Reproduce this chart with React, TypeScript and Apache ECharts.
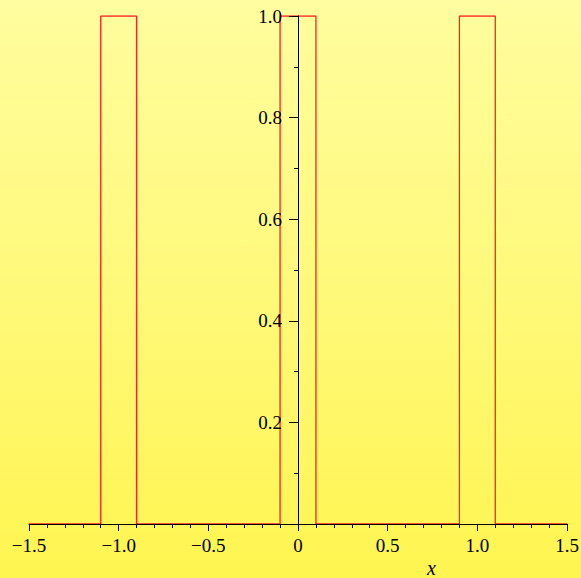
import React, { useEffect, useRef } from "react";
import * as echarts from "echarts";

// Pulse outline (x, y)
const pulseX = [-1.5, -1.1, -1.1, -0.9, -0.9, -0.1, -0.1, 0.1, 0.1, 0.9, 0.9, 1.1, 1.1, 1.5];
const pulseY = [0, 0, 1, 1, 0, 0, 1, 1, 0, 0, 1, 1, 0, 0];
const xTicks = [-1.5, -1.0, -0.5, 0, 0.5, 1.0, 1.5];
const yTicks = [0.2, 0.4, 0.6, 0.8, 1.0];
const xName = "x";

const fmt = (v: number) => {
  if (Math.abs(v) < 1e-9) return "0";
  const s = Math.abs(v).toFixed(1);
  return v < 0 ? "\u2212" + s : s;
};

export default function App() {
  const ref = useRef<HTMLDivElement>(null);
  useEffect(() => {
    if (!ref.current) return;
    const chart = echarts.init(ref.current, undefined, { renderer: "svg" });
    const font = "'Liberation Serif', 'DejaVu Serif', serif";
    const W = 581, L = 29, R = 14;
    const xMin = xTicks[0], xMax = xTicks[xTicks.length - 1];
    // shift the y axis from the grid's left edge to x = 0
    const yOffset = -((0 - xMin) / (xMax - xMin)) * (W - L - R);
    chart.setOption({
      animation: false,
      backgroundColor: {
        type: "linear",
        x: 0, y: 0, x2: 0, y2: 1,
        colorStops: [
          { offset: 0, color: "#FFFD9F" },
          { offset: 0.5, color: "#FFF97A" },
          { offset: 1, color: "#FFF550" },
        ],
      },
      grid: { left: L, right: R, top: 16, bottom: 54, outerBoundsMode: "none", containLabel: false },
      xAxis: {
        type: "value",
        min: xMin,
        max: xMax,
        interval: 0.5,
        z: 5,
        axisLine: { show: true, onZero: true, lineStyle: { color: "#000", width: 1 } },
        axisTick: { show: true, length: 7, lineStyle: { color: "#000" } },
        minorTick: { show: true, splitNumber: 5, length: 4, lineStyle: { color: "#000" } },
        splitLine: { show: false },
        axisLabel: {
          fontFamily: font,
          fontSize: 19,
          color: "#000",
          margin: 12,
          formatter: (v: number) => {
            const t = xTicks.find((k) => Math.abs(k - v) < 1e-9);
            return t === undefined ? "" : fmt(t);
          },
        },
      },
      yAxis: {
        type: "value",
        position: "left",
        offset: yOffset,
        min: 0,
        max: yTicks[yTicks.length - 1],
        interval: 0.2,
        z: 5,
        axisLine: { show: true, onZero: false, lineStyle: { color: "#000", width: 1 } },
        axisTick: { show: true, length: 9, lineStyle: { color: "#000" } },
        minorTick: { show: true, splitNumber: 2, length: 4, lineStyle: { color: "#000" } },
        splitLine: { show: false },
        axisLabel: {
          fontFamily: font,
          fontSize: 19,
          color: "#000",
          margin: 16,
          showMinLabel: false,
          formatter: (v: number) => {
            const t = yTicks.find((k) => Math.abs(k - v) < 1e-9);
            return t === undefined ? "" : fmt(t);
          },
        },
      },
      series: [
        {
          type: "line",
          data: pulseX.map((x, i) => [x, pulseY[i]]),
          symbol: "none",
          lineStyle: { color: "#FF2020", width: 1.3 },
          z: 1,
        },
      ],
      graphic: [
        {
          type: "text",
          left: 427,
          top: 558,
          style: {
            text: xName,
            font: "italic 20px 'Liberation Serif', serif",
            fill: "#000",
          },
        },
      ],
    });
    return () => chart.dispose();
  }, []);
  return (
    <div
      ref={ref}
      style={{ position: "fixed", left: 0, top: 0, width: 581, height: 578 }}
    />
  );
}
